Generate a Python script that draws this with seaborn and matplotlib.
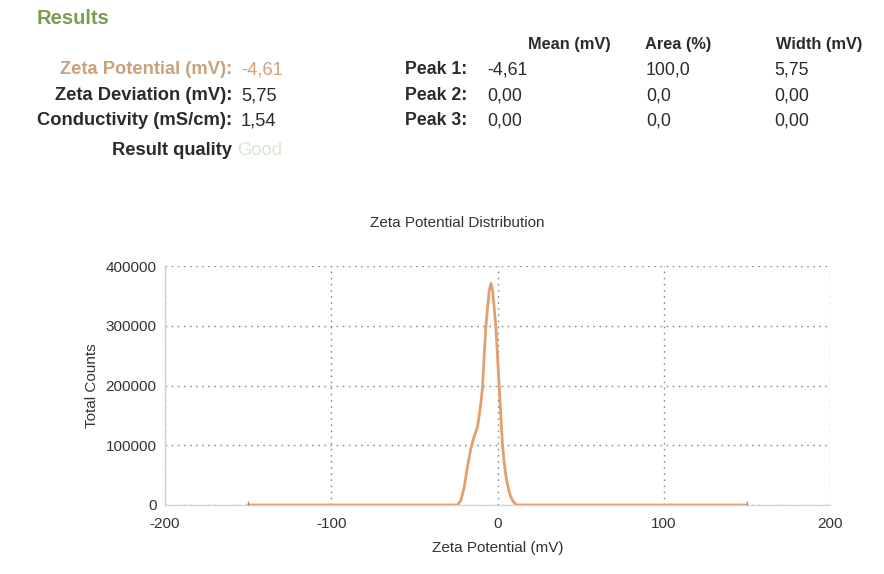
import matplotlib
matplotlib.use("Agg")
import matplotlib.pyplot as plt
import seaborn as sns
import pandas as pd
from matplotlib.ticker import MultipleLocator

# Zeta potential distribution (mV vs total counts)
zeta_mv = [-150, -120, -90, -60, -40, -30, -24, -22, -20, -18, -16, -14, -12, -10,
           -9, -8, -7, -6, -5, -4, -3, -2, -1, 0, 1, 2, 3, 4, 5, 6, 7, 8, 9, 10,
           11, 12, 15, 20, 40, 70, 100, 130, 150]
total_counts = [0, 0, 0, 0, 0, 0, 0, 8000, 30000, 65000, 95000, 115000, 131000, 170000,
                198000, 250000, 298000, 330000, 358000, 371000, 360000, 330000, 298000,
                250000, 198000, 150000, 100000, 72000, 50000, 34000, 22000, 14000, 8000,
                4000, 1500, 0, 0, 0, 0, 0, 0, 0, 0]

# Summary table
summary_labels = ["Zeta Potential (mV):", "Zeta Deviation (mV):", "Conductivity (mS/cm):"]
summary_values = ["-4,61", "5,75", "1,54"]
peak_labels = ["Peak 1:", "Peak 2:", "Peak 3:"]
peak_mean = ["-4,61", "0,00", "0,00"]
peak_area = ["100,0", "0,0", "0,0"]
peak_width = ["5,75", "0,00", "0,00"]
column_headers = ["Mean (mV)", "Area (%)", "Width (mV)"]
quality = "Good"

x_ticks = [-200, -100, 0, 100, 200]
y_ticks = [0, 100000, 200000, 300000, 400000]

sns.set_theme(style="white")
plt.rcParams["font.family"] = ["Liberation Sans", "DejaVu Sans"]

W, H = 884, 574
fig = plt.figure(figsize=(W / 100, H / 100), dpi=100)
fig.patch.set_facecolor("white")


def px(x, y):
    return x / W, 1 - y / H


dark = "#2b2b2b"
tan = "#c9a27c"
label_size = 13.2
peak_size = 12.8
hdr_size = 11.8

# Header block
fig.text(*px(37, 18), "Results", color="#7c9c52", fontsize=14.5, fontweight="bold", va="center")
for xh, t in zip([528, 645, 776], column_headers):
    fig.text(*px(xh, 44), t, color=dark, fontsize=hdr_size, fontweight="bold", va="center")

rows_y = [70, 96, 121]
for i, (lab, val) in enumerate(zip(summary_labels, summary_values)):
    c = tan if i == 0 else dark
    fig.text(*px(232, rows_y[i]), lab, color=c, fontsize=label_size, fontweight="bold",
             ha="right", va="center")
    fig.text(*px(241, rows_y[i]), val, color=("#d4a07a" if i == 0 else dark),
             fontsize=label_size, va="center")

for i in range(3):
    fig.text(*px(467, rows_y[i]), peak_labels[i], color=dark, fontsize=peak_size,
             fontweight="bold", ha="right", va="center")
    fig.text(*px(487, rows_y[i]), peak_mean[i], color=dark, fontsize=peak_size, va="center")
    fig.text(*px(646, rows_y[i]), peak_area[i], color=dark, fontsize=peak_size, va="center")
    fig.text(*px(774, rows_y[i]), peak_width[i], color=dark, fontsize=peak_size, va="center")

fig.text(*px(232, 151), "Result quality", color=dark, fontsize=label_size, fontweight="bold",
         ha="right", va="center")
fig.text(*px(237, 151), quality, color="#d6e9c6", fontsize=label_size, va="center")

# Distribution plot
left, right, top, bottom = 165, 830, 266, 505
ax = fig.add_axes([left / W, 1 - bottom / H, (right - left) / W, (bottom - top) / H])
df = pd.DataFrame({"Zeta Potential (mV)": zeta_mv, "Total Counts": total_counts})
sns.lineplot(data=df, x="Zeta Potential (mV)", y="Total Counts", ax=ax,
             color="#e0a070", linewidth=2.0, zorder=3)
ax.plot([zeta_mv[0], zeta_mv[-1]], [total_counts[0], total_counts[-1]], linestyle="none",
        marker="|", markersize=6, color="#9a9a9a", zorder=4)

ax.set_xlim(-200, 200)
ax.set_ylim(0, 400000)
ax.set_xticks(x_ticks)
ax.set_yticks(y_ticks)
ax.set_xticklabels([str(v) for v in x_ticks])
ax.set_yticklabels([str(v) for v in y_ticks])
ax.yaxis.set_minor_locator(MultipleLocator(50000))
ax.tick_params(axis="both", which="major", labelsize=11, colors="#333333", length=0)
ax.tick_params(axis="x", which="major", pad=9)
ax.tick_params(axis="y", which="major", pad=6)
ax.tick_params(axis="y", which="minor", direction="in", length=3, color="#cccccc", width=0.8)

ax.grid(True, which="major", color="#8a8a8a", linestyle=(0, (1.2, 3.2)), linewidth=1.0)
for side in ["top", "right"]:
    ax.spines[side].set_visible(False)
ax.spines["left"].set_color("#cfcfcf")
ax.spines["bottom"].set_color("#d6d6d6")
ax.spines["left"].set_linewidth(1.0)
ax.spines["bottom"].set_linewidth(1.0)
ax.set_facecolor("white")

ax.set_xlabel("Zeta Potential (mV)", fontsize=11, color="#333333", labelpad=7)
ax.set_ylabel("Total Counts", fontsize=11, color="#333333", labelpad=5)
fig.text(*px(457, 223), "Zeta Potential Distribution", fontsize=11, color="#333333",
         ha="center", va="center")

fig.savefig("out.png", dpi=100, facecolor="white")
